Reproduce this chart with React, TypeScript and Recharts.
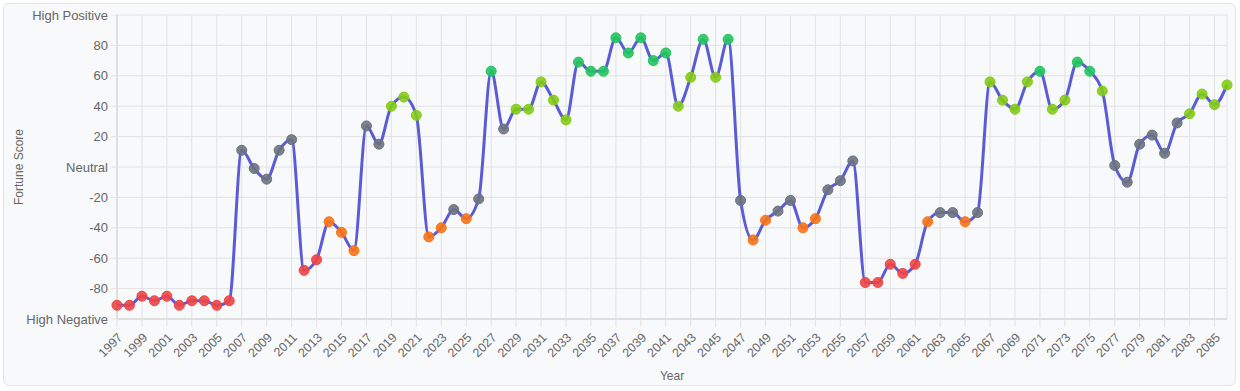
import { LineChart, Line, XAxis, YAxis, CartesianGrid } from "recharts"

const years = [
  1997, 1998, 1999, 2000, 2001, 2002, 2003, 2004, 2005, 2006,
  2007, 2008, 2009, 2010, 2011, 2012, 2013, 2014, 2015, 2016,
  2017, 2018, 2019, 2020, 2021, 2022, 2023, 2024, 2025, 2026,
  2027, 2028, 2029, 2030, 2031, 2032, 2033, 2034, 2035, 2036,
  2037, 2038, 2039, 2040, 2041, 2042, 2043, 2044, 2045, 2046,
  2047, 2048, 2049, 2050, 2051, 2052, 2053, 2054, 2055, 2056,
  2057, 2058, 2059, 2060, 2061, 2062, 2063, 2064, 2065, 2066,
  2067, 2068, 2069, 2070, 2071, 2072, 2073, 2074, 2075, 2076,
  2077, 2078, 2079, 2080, 2081, 2082, 2083, 2084, 2085, 2086,
]

const scores = [
  -91, -91, -85, -88, -85, -91, -88, -88, -91, -88,
  11, -1, -8, 11, 18, -68, -61, -36, -43, -55,
  27, 15, 40, 46, 34, -46, -40, -28, -34, -21,
  63, 25, 38, 38, 56, 44, 31, 69, 63, 63,
  85, 75, 85, 70, 75, 40, 59, 84, 59, 84,
  -22, -48, -35, -29, -22, -40, -34, -15, -9, 4,
  -76, -76, -64, -70, -64, -36, -30, -30, -36, -30,
  56, 44, 38, 56, 63, 38, 44, 69, 63, 50,
  1, -10, 15, 21, 9, 29, 35, 48, 41, 54,
]

const yTicks = [-100, -80, -60, -40, -20, 0, 20, 40, 60, 80, 100]
const yTickNames: Record<number, string> = {
  100: "High Positive",
  0: "Neutral",
  [-100]: "High Negative",
}

const data = years.map((year, i) => ({ year: String(year), score: scores[i] }))

function dotColor(v: number) {
  if (v > 60) return "#22c55e"
  if (v >= 30) return "#84cc16"
  if (v >= -30) return "#6b7280"
  if (v >= -60) return "#f97316"
  return "#ef4444"
}

function ScoreDot(props: any) {
  const { cx, cy, payload, index } = props
  if (cx == null || cy == null) return null
  const c = dotColor(payload.score)
  return <circle key={index} cx={cx} cy={cy} r={5} fill={c} fillOpacity={0.9} stroke={c} strokeWidth={1} />
}

const font = '"Liberation Sans", Arial, sans-serif'

export default function App() {
  return (
    <div
      style={{
        position: "absolute",
        left: 3,
        top: 3,
        width: 1231,
        height: 381,
        background: "#f8f9fb",
        border: "1px solid #e3e5e8",
        borderRadius: 6,
        fontFamily: font,
      }}
    >
      <LineChart width={1231} height={381} data={data} margin={{ top: 11, right: 8, bottom: 4, left: 0 }}>
        <CartesianGrid stroke="#e2e2e2" />
        <XAxis
          dataKey="year"
          interval={1}
          angle={-45}
          textAnchor="end"
          height={62}
          tickLine={{ stroke: "#e2e2e2" }}
          tickSize={8}
          tickMargin={5}
          axisLine={{ stroke: "#d0d0d0" }}
          tick={{ fontSize: 12.5, fill: "#666", fontFamily: font }}
          label={{ value: "Year", position: "insideBottom", offset: 1, fontSize: 12, fill: "#666", fontFamily: font }}
        />
        <YAxis
          domain={[-100, 100]}
          ticks={yTicks}
          width={113}
          tickLine={{ stroke: "#e2e2e2" }}
          tickSize={6}
          tickMargin={3}
          axisLine={{ stroke: "#d0d0d0" }}
          tick={{ fontSize: 13, fill: "#666", fontFamily: font }}
          tickFormatter={(v: number) => yTickNames[v] ?? String(v)}
          label={{
            value: "Fortune Score",
            angle: -90,
            position: "insideLeft",
            offset: 15,
            style: { textAnchor: "middle" },
            fontSize: 12,
            fill: "#666",
            fontFamily: font,
          }}
        />
        <Line
          type="monotone"
          dataKey="score"
          stroke="#5b5bd6"
          strokeWidth={3}
          dot={<ScoreDot />}
          activeDot={false}
          isAnimationActive={false}
        />
      </LineChart>
    </div>
  )
}
